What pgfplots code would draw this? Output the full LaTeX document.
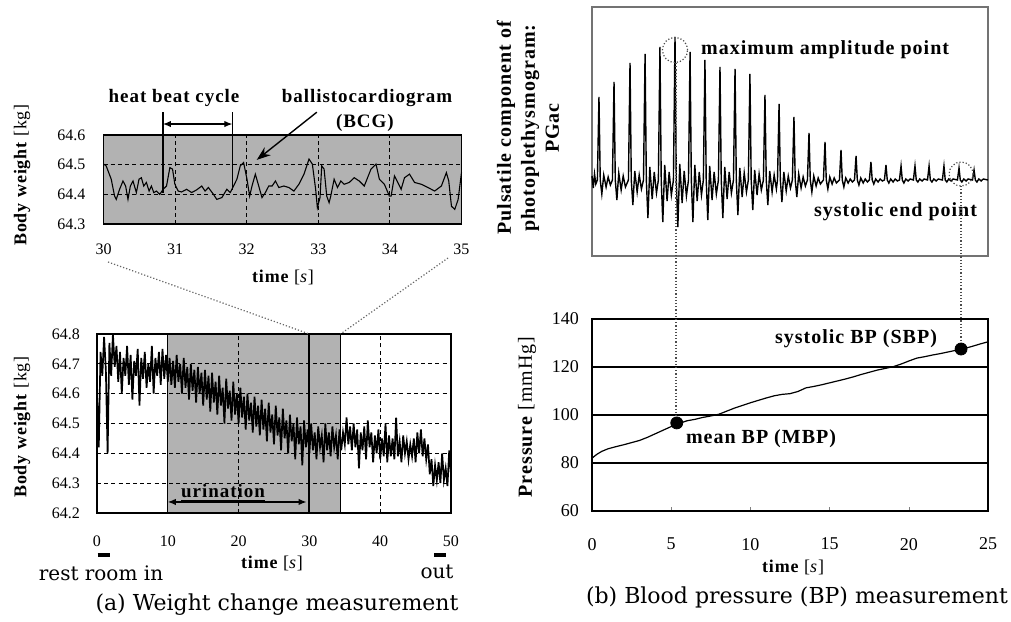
\documentclass[border=0pt]{standalone}
\usepackage{fontspec}
\setmainfont{Liberation Serif}
\newfontfamily\capfont{DejaVu Serif}
\newfontfamily\lblfont[LetterSpace=5]{Liberation Serif}
\usepackage{pgfplots}
\pgfplotsset{compat=1.18}
\usetikzlibrary{arrows.meta}

\newcommand{\lb}[1]{\fontsize{#1}{#1}\lblfont\bfseries}
\pgfplotsset{
  panel/.style={scale only axis, clip=false, anchor=south west,
    /pgf/number format/assume math mode=true,
    tick label style={font=\fontsize{8}{9}\selectfont},
    major tick length=0pt, axis line style={black, line width=0.8pt}},
  dgrid/.style={grid=major, major grid style={black, line width=0.5pt, dash pattern=on 2pt off 1.6pt}},
}

\begin{document}
\begin{tikzpicture}
\useasboundingbox (0,0) rectangle (505.5pt,-310.5pt);

% ---------- (a) top: BCG zoom 30-35 s
\begin{axis}[panel, dgrid, at={(51.75pt,-112pt)}, width=179pt, height=44.5pt,
  xmin=30, xmax=35, ymin=64.3, ymax=64.6,
  xtick={30,31,32,33,34,35}, ytick={64.3,64.4,64.5,64.6},
  axis background/.style={fill=black!30},
  xticklabel style={yshift=-6.6pt},
  yticklabel style={xshift=-5.5pt, /pgf/number format/.cd, fixed, fixed zerofill, precision=1}]
\addplot[black, line width=0.55pt] coordinates {
(30.000,64.502) (30.037,64.496) (30.108,64.451) (30.155,64.394) (30.178,64.383)
(30.225,64.417) (30.272,64.445) (30.309,64.428) (30.342,64.383) (30.375,64.428)
(30.412,64.445) (30.459,64.406) (30.496,64.451) (30.529,64.456) (30.562,64.428)
(30.599,64.440) (30.637,64.411) (30.669,64.428) (30.702,64.406) (30.740,64.411)
(30.787,64.400) (30.833,64.417) (30.880,64.428) (30.927,64.490) (30.964,64.485)
(30.997,64.434) (31.044,64.411) (31.091,64.408) (31.161,64.417) (31.231,64.406)
(31.301,64.415) (31.372,64.428) (31.419,64.411) (31.465,64.423) (31.536,64.400)
(31.582,64.383) (31.653,64.389) (31.723,64.417) (31.770,64.406) (31.816,64.428)
(31.863,64.451) (31.910,64.496) (31.957,64.507) (32.004,64.451) (32.041,64.394)
(32.074,64.428) (32.121,64.468) (32.168,64.428) (32.214,64.389) (32.261,64.406)
(32.308,64.428) (32.355,64.428) (32.402,64.445) (32.448,64.423) (32.519,64.428)
(32.589,64.423) (32.659,64.411) (32.729,64.434) (32.800,64.468) (32.870,64.519)
(32.917,64.502) (32.963,64.417) (32.987,64.355) (33.024,64.389) (33.048,64.496)
(33.081,64.485) (33.118,64.394) (33.151,64.372) (33.174,64.394) (33.221,64.451)
(33.268,64.423) (33.315,64.445) (33.361,64.434) (33.432,64.440) (33.502,64.456)
(33.572,64.445) (33.642,64.428) (33.736,64.485) (33.806,64.502) (33.853,64.451)
(33.923,64.434) (33.993,64.394) (34.017,64.394) (34.064,64.462) (34.111,64.440)
(34.157,64.417) (34.204,64.456) (34.274,64.468) (34.345,64.440) (34.438,64.434)
(34.532,64.423) (34.625,64.411) (34.719,64.428) (34.789,64.473) (34.822,64.445)
(34.860,64.360) (34.906,64.349) (34.953,64.383) (35.000,64.473)};
\draw[line width=0.6pt] (axis cs:30.83,64.405) -- (axis cs:30.83,64.678);
\draw[line width=0.6pt] (axis cs:31.80,64.415) -- (axis cs:31.80,64.678);
\draw[line width=0.6pt, {Latex[length=4pt,width=3.2pt]}-{Latex[length=4pt,width=3.2pt]}]
  (axis cs:30.83,64.637) -- (axis cs:31.80,64.637);
\draw[line width=0.7pt, -{Stealth[length=7pt,width=5pt]}] (axis cs:32.98,64.677) -- (axis cs:32.14,64.516);
\node[font=\lb{9.5}] at (axis cs:30.985,64.725) {heat beat cycle};
\node[font=\lb{9.5}] at (axis cs:33.68,64.725) {ballistocardiogram};
\node[font=\lb{9.5}] at (axis cs:33.65,64.640) {(BCG)};
\end{axis}

% ---------- (a) bottom: weight 0-50 s
\begin{axis}[panel, dgrid, axis on top, at={(48.5pt,-256.5pt)}, width=177pt, height=89.5pt,
  xmin=0, xmax=50, ymin=64.2, ymax=64.8,
  xtick={0,10,20,30,40,50}, ytick={64.2,64.3,64.4,64.5,64.6,64.7,64.8},
  xticklabel style={yshift=-8.1pt},
  yticklabel style={xshift=-5pt, /pgf/number format/.cd, fixed, fixed zerofill, precision=1}]
\fill[black!30] (axis cs:10,64.2) rectangle (axis cs:34.4,64.8);
\draw[line width=0.4pt] (axis cs:10,64.2) -- (axis cs:10,64.8);
\addplot[black, line width=0.85pt] coordinates {
(0.00,64.60) (0.25,64.42) (0.50,64.74) (0.75,64.66) (1.00,64.79) (1.25,64.68) (1.50,64.40) (1.75,64.77)
(2.00,64.66) (2.25,64.80) (2.50,64.69) (2.75,64.76) (3.00,64.64) (3.25,64.74) (3.50,64.60) (3.75,64.72)
(4.00,64.66) (4.25,64.76) (4.50,64.63) (4.75,64.73) (5.00,64.58) (5.25,64.71) (5.50,64.66) (5.75,64.75)
(6.00,64.56) (6.25,64.72) (6.50,64.65) (6.75,64.74) (7.00,64.62) (7.25,64.70) (7.50,64.64) (7.75,64.76)
(8.00,64.60) (8.25,64.72) (8.50,64.66) (8.75,64.74) (9.00,64.63) (9.25,64.75) (9.50,64.65) (9.75,64.73)
(10.00,64.64) (10.25,64.72) (10.50,64.63) (10.75,64.71) (11.00,64.62) (11.25,64.73) (11.50,64.64) (11.75,64.70)
(12.00,64.60) (12.25,64.72) (12.50,64.62) (12.75,64.69) (13.00,64.58) (13.25,64.70) (13.50,64.61) (13.75,64.68)
(14.00,64.57) (14.25,64.69) (14.50,64.60) (14.75,64.67) (15.00,64.56) (15.25,64.68) (15.50,64.58) (15.75,64.66)
(16.00,64.54) (16.25,64.67) (16.50,64.57) (16.75,64.64) (17.00,64.53) (17.25,64.66) (17.50,64.56) (17.75,64.62)
(18.00,64.50) (18.25,64.65) (18.50,64.55) (18.75,64.61) (19.00,64.51) (19.25,64.64) (19.50,64.53) (19.75,64.60)
(20.00,64.50) (20.25,64.62) (20.50,64.52) (20.75,64.59) (21.00,64.48) (21.25,64.60) (21.50,64.51) (21.75,64.57)
(22.00,64.47) (22.25,64.59) (22.50,64.49) (22.75,64.56) (23.00,64.46) (23.25,64.58) (23.50,64.48) (23.75,64.55)
(24.00,64.44) (24.25,64.57) (24.50,64.47) (24.75,64.53) (25.00,64.43) (25.25,64.56) (25.50,64.46) (25.75,64.52)
(26.00,64.41) (26.25,64.55) (26.50,64.45) (26.75,64.51) (27.00,64.40) (27.25,64.53) (27.50,64.44) (27.75,64.50)
(28.00,64.38) (28.25,64.52) (28.50,64.43) (28.75,64.49) (29.00,64.36) (29.25,64.51) (29.50,64.42) (29.75,64.48)
(30.00,64.40) (30.25,64.50) (30.50,64.41) (30.75,64.47) (31.00,64.38) (31.25,64.49) (31.50,64.42) (31.75,64.46)
(32.00,64.37) (32.25,64.50) (32.50,64.41) (32.75,64.47) (33.00,64.39) (33.25,64.49) (33.50,64.42) (33.75,64.46)
(34.00,64.38) (34.25,64.48) (34.50,64.41) (34.75,64.47) (35.00,64.43) (35.25,64.52) (35.50,64.43) (35.75,64.49)
(36.00,64.41) (36.25,64.50) (36.50,64.42) (36.75,64.48) (37.00,64.35) (37.25,64.47) (37.50,64.41) (37.75,64.49)
(38.00,64.38) (38.25,64.51) (38.50,64.42) (38.75,64.47) (39.00,64.37) (39.25,64.46) (39.50,64.40) (39.75,64.48)
(40.00,64.38) (40.25,64.45) (40.50,64.39) (40.75,64.50) (41.00,64.37) (41.25,64.46) (41.50,64.39) (41.75,64.45)
(42.00,64.38) (42.25,64.52) (42.50,64.39) (42.75,64.44) (43.00,64.37) (43.25,64.46) (43.50,64.40) (43.75,64.44)
(44.00,64.38) (44.25,64.43) (44.50,64.39) (44.75,64.45) (45.00,64.37) (45.25,64.47) (45.50,64.40) (45.75,64.48)
(46.00,64.39) (46.25,64.45) (46.50,64.38) (46.75,64.43) (47.00,64.33) (47.25,64.38) (47.50,64.29) (47.75,64.36)
(48.00,64.31) (48.25,64.37) (48.50,64.30) (48.75,64.40) (49.00,64.31) (49.25,64.35) (49.50,64.29) (49.75,64.41)
(50.00,64.33)};
\draw[line width=0.9pt] (axis cs:30,64.2) -- (axis cs:30,64.8);
\draw[line width=0.9pt] (axis cs:34.4,64.2) -- (axis cs:34.4,64.8);
\draw[line width=0.6pt, {Latex[length=4pt,width=3.2pt]}-{Latex[length=4pt,width=3.2pt]}]
  (axis cs:10,64.237) -- (axis cs:29.6,64.237);
\node[font=\lb{9.5}] at (axis cs:17.8,64.267) {\underline{urination}};
\coordinate (b30) at (axis cs:30,64.8);
\coordinate (b34) at (axis cs:34.4,64.8);
\draw[line width=1.8pt] (axis cs:0.1,64.06) -- (axis cs:1.8,64.06);
\draw[line width=1.8pt] (axis cs:47.6,64.06) -- (axis cs:49.3,64.06);
\end{axis}

\draw[black!60, densely dotted, line width=0.6pt] (54pt,-131pt) -- (b30);
\draw[black!60, densely dotted, line width=0.6pt] (224pt,-129pt) -- (b34);

% ---------- (b) top: PGac
\begin{axis}[panel, at={(296pt,-128pt)}, width=198pt, height=124.5pt,
  xmin=0, xmax=25, ymin=-76, ymax=173, ticks=none,
  axis line style={black!55, line width=0.8pt}]
\addplot[black, line width=0.7pt] coordinates {
(0,4) (0.08,-8) (0.16,6) (0.24,-4)
(0.34,0) (0.44,83) (0.52,0) (0.62,-14) (0.74,5) (0.89,-7) (1.02,3) (1.16,-5)
(1.29,0) (1.39,98) (1.47,0) (1.57,-20) (1.69,7) (1.84,-10) (1.97,4) (2.11,-7)
(2.30,0) (2.40,117) (2.48,0) (2.58,-25) (2.70,9) (2.85,-12) (2.98,5) (3.12,-9)
(3.25,0) (3.35,126) (3.43,0) (3.53,-38) (3.65,13) (3.80,-19) (3.93,8) (4.07,-13)
(4.19,0) (4.29,133) (4.37,0) (4.47,-42) (4.59,15) (4.74,-21) (4.87,8) (5.01,-15)
(5.14,0) (5.24,143) (5.32,0) (5.42,-47) (5.54,16) (5.69,-23) (5.82,9) (5.96,-16)
(6.09,0) (6.19,128) (6.27,0) (6.37,-42) (6.49,15) (6.64,-21) (6.77,8) (6.91,-15)
(7.03,0) (7.13,120) (7.21,0) (7.31,-40) (7.43,14) (7.58,-20) (7.71,8) (7.85,-14)
(7.98,0) (8.08,113) (8.16,0) (8.26,-38) (8.38,13) (8.53,-19) (8.66,8) (8.80,-13)
(8.93,0) (9.03,111) (9.11,0) (9.21,-35) (9.33,12) (9.48,-17) (9.61,7) (9.75,-12)
(9.87,0) (9.97,106) (10.05,0) (10.15,-30) (10.27,10) (10.42,-15) (10.55,6) (10.69,-10)
(10.82,0) (10.92,85) (11.00,0) (11.10,-25) (11.22,9) (11.37,-12) (11.50,5) (11.64,-9)
(11.71,0) (11.81,76) (11.89,0) (11.99,-22) (12.11,8) (12.26,-11) (12.39,4) (12.53,-8)
(12.65,0) (12.75,63) (12.83,0) (12.93,-17) (13.05,6) (13.20,-8) (13.33,3) (13.47,-6)
(13.60,0) (13.70,47) (13.78,0) (13.88,-12) (14.00,4) (14.15,-6) (14.28,2) (14.42,-4)
(14.61,0) (14.71,38) (14.79,0) (14.89,-9) (15.01,3) (15.16,-4) (15.29,2) (15.43,-3)
(15.62,0) (15.72,30) (15.80,0) (15.90,-7) (16.02,2) (16.17,-3) (16.30,1) (16.44,-2)
(16.57,0) (16.67,24) (16.75,0) (16.85,-5) (16.97,2) (17.12,-3) (17.25,1) (17.39,-2)
(17.51,0) (17.61,18) (17.69,0) (17.79,-4) (17.91,1) (18.06,-2) (18.19,1) (18.33,-1)
(18.46,0) (18.56,15) (18.64,0) (18.74,-3) (18.86,1) (19.01,-2) (19.14,1) (19.28,-1)
(19.41,0) (19.51,14) (19.59,0) (19.69,-3) (19.81,1) (19.96,-1) (20.09,1)
(20.29,0) (20.39,14) (20.47,0) (20.57,-2) (20.69,1) (20.84,-1) (20.97,1)
(21.18,0) (21.28,14) (21.36,0) (21.46,-2) (21.58,1) (21.73,-1) (21.86,1)
(22.12,0) (22.22,14) (22.30,0) (22.40,-2) (22.52,1) (22.67,-1) (22.80,1)
(23.07,0) (23.17,12) (23.25,0) (23.35,-2) (23.47,1) (23.62,-1) (23.75,1)
(24.02,0) (24.12,10) (24.20,0) (24.30,-2) (24.42,1) (24.57,-1) (24.70,1) (25,0)};
\draw[black!70, densely dotted, line width=0.6pt] (axis cs:5.24,130) circle[radius=6.3pt];
\draw[black!70, densely dotted, line width=0.6pt] (axis cs:23.3,6) circle[radius=6pt];
\node[font=\lb{10}, anchor=west] at (axis cs:6.45,130) {maximum amplitude point};
\node[font=\lb{10}, anchor=east] at (axis cs:24.75,-32) {systolic end point};
\coordinate (c1) at (axis cs:5.3,117);
\coordinate (c2) at (axis cs:23.3,-6);
\end{axis}

% ---------- (b) bottom: pressure
\begin{axis}[panel, at={(296pt,-255.5pt)}, width=198pt, height=96pt,
  xmin=0, xmax=25, ymin=60, ymax=140,
  xtick={0,5,10,15,20,25}, ytick={60,80,100,120,140},
  ymajorgrids, major grid style={black, line width=0.6pt},
  xtick pos=left, major tick length=2pt, tick align=inside, ytick style={draw=none},
  tick label style={font=\fontsize{9}{10}\selectfont},
  xticklabel style={yshift=-10pt}, yticklabel style={xshift=-3pt}]
\addplot[black, line width=0.6pt] coordinates {
(0,82.0) (0.3,83.6) (0.6,84.8) (1,85.9) (1.5,86.8) (2,87.6) (2.5,88.5) (3,89.4)
(3.5,90.7) (4,92.2) (4.5,93.7) (5,95.2) (5.5,96.5) (6,97.6) (6.5,98.2) (7,99.0)
(7.5,99.6) (8,100.3) (8.5,101.6) (9,102.9) (9.5,104.0) (10,105.1) (10.5,106.1) (11,107.1)
(11.5,108.0) (12,108.6) (12.5,108.9) (13,109.8) (13.5,111.3) (14,111.9) (14.5,112.6) (15,113.4)
(15.5,114.2) (16,115.0) (16.5,115.9) (17,116.9) (17.5,117.8) (18,118.7) (18.5,119.4) (19,120.1)
(19.5,121.2) (20,122.5) (20.5,123.7) (21,124.3) (21.5,125.0) (22,125.6) (22.5,126.3) (23,127.0)
(23.5,127.7) (24,128.6) (24.5,129.6) (25,130.5)};
\addplot[only marks, mark=*, mark size=3pt, black] coordinates {(5.35,96.7) (23.3,127.5)};
\node[font=\lb{10}] at (axis cs:16.67,131.7) {systolic BP (SBP)};
\node[font=\lb{10}] at (axis cs:10.67,90) {mean BP (MBP)};
\coordinate (d1) at (axis cs:5.3,99.5);
\coordinate (d2) at (axis cs:23.3,130.3);
\end{axis}

\draw[black!70, densely dotted, line width=0.6pt] (c1) -- (d1);
\draw[black!70, densely dotted, line width=0.6pt] (c2) -- (d2);

% ---------- labels
\node[rotate=90, font=\lb{9}] at (11pt,-87.5pt) {Body weight {\mdseries [kg]}};
\node[font=\lb{9}] at (141.5pt,-138.5pt) {time {\mdseries [\textit{s}]}};
\node[rotate=90, font=\lb{9}] at (11pt,-213.5pt) {Body weight {\mdseries [kg]}};
\node[font=\lb{9}] at (136pt,-281.5pt) {time {\mdseries [\textit{s}]}};
\node[font=\capfont\fontsize{10}{12}\selectfont] at (50.5pt,-286.5pt) {rest room in};
\node[font=\capfont\fontsize{10}{12}\selectfont] at (218.5pt,-286pt) {out};
\node[font=\capfont\fontsize{11}{13}\selectfont] at (138.5pt,-302.5pt) {(a) Weight change measurement};

\node[rotate=90, align=center, font=\lb{10}\fontsize{10}{12}\selectfont] at (264pt,-64pt)
  {Pulsatile component of\\photoplethysmogram:\\PGac};
\node[rotate=90, font=\lb{10}] at (263.5pt,-208.5pt) {Pressure {\mdseries [mmHg]}};
\node[font=\lb{9}] at (396.5pt,-283.5pt) {time {\mdseries [\textit{s}]}};
\node[font=\capfont\fontsize{11}{13}\selectfont] at (398.5pt,-298.5pt) {(b) Blood pressure (BP) measurement};
\end{tikzpicture}
\end{document}
